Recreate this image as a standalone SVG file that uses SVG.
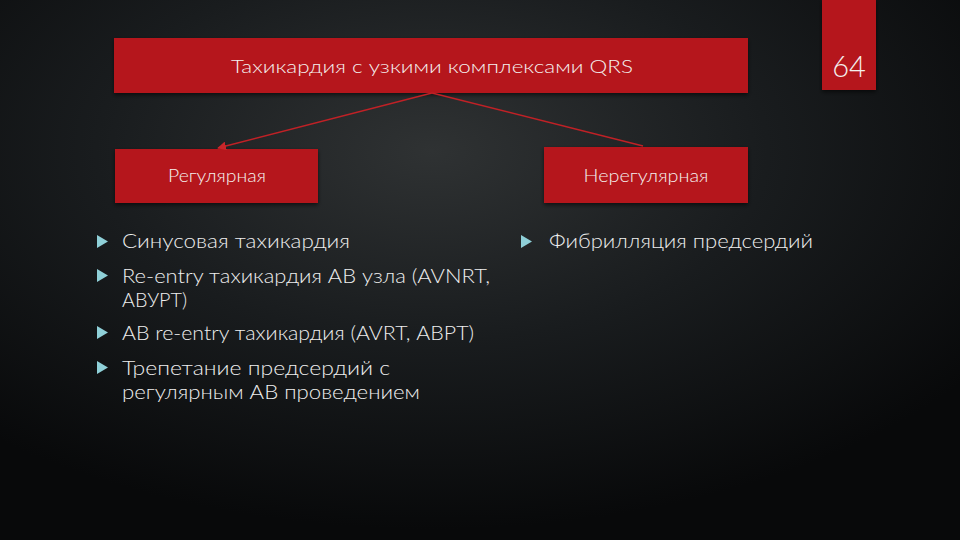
<svg xmlns="http://www.w3.org/2000/svg" width="960" height="540" viewBox="0 0 960 540">
  <defs>
    <radialGradient id="bg" cx="0.45" cy="0.28" r="0.7">
      <stop offset="0" stop-color="#2f3233"/>
      <stop offset="0.5" stop-color="#191c1e"/>
      <stop offset="1" stop-color="#08090a"/>
    </radialGradient>
    <marker id="arr" viewBox="0 0 10 10" refX="9" refY="5" markerWidth="6" markerHeight="6" orient="auto-start-reverse">
      <path d="M0,0 L10,5 L0,10 z" fill="#c8262a"/>
    </marker>
    <filter id="sh" x="-5%" y="-10%" width="110%" height="130%">
      <feDropShadow dx="0" dy="2" stdDeviation="2" flood-color="#000" flood-opacity="0.6"/>
    </filter>
  </defs>
  <style>
    .box { fill: #b5161a; filter: url(#sh); }
    .t { font-family: "Lato", "Open Sans", "DejaVu Sans", sans-serif; font-weight: 300; fill: #f4f0ee; }
    .bt { font-family: "Lato", "Open Sans", "DejaVu Sans", sans-serif; font-weight: 300; fill: #eeeeee; font-size: 20px; }
    .bul { fill: #8fd0d8; }
    .conn { stroke: #c02126; stroke-width: 1.5; fill: none; }
  </style>
  <rect width="960" height="540" fill="url(#bg)"/>

  <g id="page-number">
    <rect x="822" y="0" width="54" height="90" class="box"/>
    <text x="849" y="77" class="t" font-size="29" text-anchor="middle">64</text>
  </g>

  <g id="root">
    <rect x="114" y="38" width="634" height="55" class="box"/>
    <text x="432" y="73" class="t" font-size="18" text-anchor="middle" textLength="402" lengthAdjust="spacingAndGlyphs">Тахикардия с узкими комплексами QRS</text>
  </g>

  <g id="regular">
    <rect x="115" y="149" width="203" height="54" class="box"/>
    <text x="217" y="182" class="t" font-size="18" text-anchor="middle" textLength="98" lengthAdjust="spacingAndGlyphs">Регулярная</text>
  </g>

  <g id="irregular">
    <rect x="544" y="147" width="204" height="56" class="box"/>
    <text x="646" y="182" class="t" font-size="18" text-anchor="middle" textLength="125" lengthAdjust="spacingAndGlyphs">Нерегулярная</text>
  </g>

  <g id="connectors">
    <line x1="432" y1="93" x2="218" y2="148" class="conn" marker-end="url(#arr)"/>
    <line x1="432" y1="93" x2="643" y2="146" class="conn"/>
  </g>

  <g id="regular-list">
    <path class="bul" d="M97,235 L108,241.5 L97,248 z"/>
    <text x="122" y="248" class="bt" textLength="228" lengthAdjust="spacingAndGlyphs">Синусовая тахикардия</text>
    <path class="bul" d="M97,269 L108,275.5 L97,282 z"/>
    <text x="122" y="283" class="bt" textLength="368" lengthAdjust="spacingAndGlyphs">Re-entry тахикардия АВ узла (AVNRT,</text>
    <text x="122" y="307" class="bt" textLength="65" lengthAdjust="spacingAndGlyphs">АВУРТ)</text>
    <path class="bul" d="M97,326 L108,332.5 L97,339 z"/>
    <text x="122" y="340" class="bt" textLength="352" lengthAdjust="spacingAndGlyphs">АВ re-entry тахикардия (AVRT, АВРТ)</text>
    <path class="bul" d="M97,361 L108,367.5 L97,374 z"/>
    <text x="122" y="375" class="bt" textLength="268" lengthAdjust="spacingAndGlyphs">Трепетание предсердий с</text>
    <text x="122" y="399" class="bt" textLength="298" lengthAdjust="spacingAndGlyphs">регулярным АВ проведением</text>
  </g>

  <g id="irregular-list">
    <path class="bul" d="M521,235 L532,241.5 L521,248 z"/>
    <text x="549" y="248" class="bt" textLength="264" lengthAdjust="spacingAndGlyphs">Фибрилляция предсердий</text>
  </g>
</svg>
